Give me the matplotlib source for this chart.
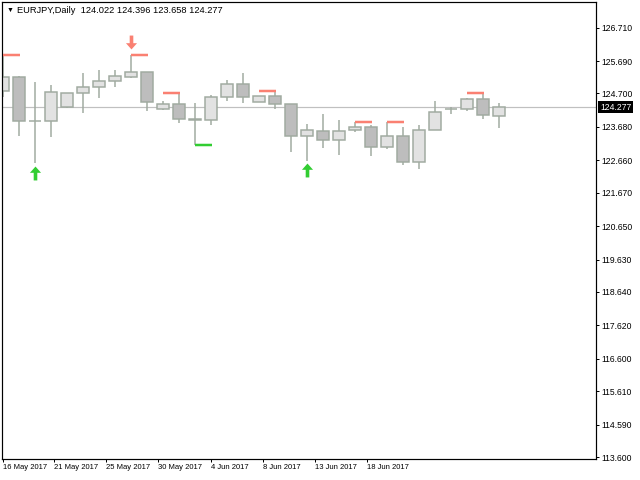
import matplotlib

matplotlib.use("Agg")
import matplotlib.transforms as mtransforms
import numpy as np
from matplotlib import pyplot as plt
from matplotlib.path import Path

plt.rcParams["font.family"] = ["Liberation Sans", "DejaVu Sans"]

# daily bars, EURJPY
opens = [124.785, 125.194, 123.870, 123.869, 124.278, 124.705, 124.889, 125.072,
         125.212, 125.347, 124.235, 124.379, 123.921, 123.881, 124.583, 124.980,
         124.431, 124.623, 124.369, 123.392, 123.545, 123.270, 123.594, 123.667,
         123.056, 123.392, 122.598, 123.576, 124.217, 124.217, 124.522, 124.022]
highs = [125.840, 125.234, 125.060, 124.959, 124.720, 125.334, 125.417, 125.417,
         125.865, 125.350, 124.470, 124.705, 124.409, 124.653, 125.111, 125.334,
         124.630, 124.754, 124.369, 123.768, 124.073, 123.890, 123.820, 123.737,
         123.820, 123.676, 123.737, 124.470, 124.287, 124.571, 124.705, 124.396]
lows = [124.602, 123.402, 122.568, 123.380, 124.270, 124.113, 124.571, 124.907,
        125.182, 124.174, 124.195, 123.808, 123.127, 123.747, 124.479, 124.418,
        124.430, 124.217, 122.922, 122.647, 123.044, 122.831, 123.533, 122.800,
        123.014, 122.525, 122.403, 123.576, 124.082, 124.156, 123.930, 123.658]
closes = [125.194, 123.850, 123.855, 124.745, 124.715, 124.889, 125.081, 125.224,
          125.347, 124.449, 124.379, 123.911, 123.875, 124.583, 124.980, 124.583,
          124.623, 124.369, 123.392, 123.576, 123.270, 123.545, 123.667, 123.056,
          123.392, 122.598, 123.576, 124.125, 124.217, 124.522, 124.034, 124.277]

# fractal levels: (bar where the segment starts, price)
res_bars = [0, 8, 10, 16, 22, 24, 29]
res_levels = [125.875, 125.865, 124.705, 124.776, 123.829, 123.829, 124.705]
sup_bars = [12]
sup_levels = [123.118]

# signal arrows
buy_bars = [2, 19]
sell_bars = [8]

price_ticks = [126.710, 125.690, 124.700, 123.680, 122.660, 121.670, 120.650,
               119.630, 118.640, 117.620, 116.600, 115.610, 114.590, 113.600]
date_pos = [0, 3.2, 6.45, 9.7, 13.0, 16.27, 19.5, 22.75]
date_labels = ["16 May 2017", "21 May 2017", "25 May 2017", "30 May 2017",
               "4 Jun 2017", "8 Jun 2017", "13 Jun 2017", "18 Jun 2017"]

o, h, l, c = map(np.array, (opens, highs, lows, closes))
x = np.arange(o.size)
last = c[-1]

px = 1 / 100 * 72  # one pixel in points
edge = "#A0AAA0"
fig = plt.figure(figsize=(6.4, 4.8), dpi=100)
ax = fig.add_axes([2 / 640, 1 - 459 / 480, 594 / 640, 457 / 480])
ax.set_xlim(-1 / 16, 593 / 16)
ax.set_ylim(113.539, 127.493)

ax.axhline(last, color="#C0C0C0", lw=1.2 * px, zorder=0.5)
ax.vlines(x, l, h, color=edge, lw=1.5 * px, zorder=1)
faces = np.where(c >= o, "#E2E2E2", "#BDBDBD")
ax.bar(x, np.abs(c - o), bottom=np.minimum(o, c), width=0.69, color=faces,
       edgecolor=edge, linewidth=1.5 * px, zorder=2)

rb = np.array(res_bars)
ax.hlines(res_levels, rb - 0.02, rb + 1.08, color="#FA8072", lw=2.5 * px, zorder=3)
sb = np.array(sup_bars)
ax.hlines(sup_levels, sb - 0.02, sb + 1.08, color="#32CD32", lw=2.5 * px, zorder=3)

up = Path([(0, 0.5), (0.4, 0.05), (0.13, 0.05), (0.13, -0.5), (-0.13, -0.5),
           (-0.13, 0.05), (-0.4, 0.05), (0, 0.5)],
          [Path.MOVETO] + [Path.LINETO] * 6 + [Path.CLOSEPOLY])
down = Path(up.vertices * [1, -1], up.codes)
off_dn = mtransforms.ScaledTranslation(0, -7 / 72, fig.dpi_scale_trans)
off_up = mtransforms.ScaledTranslation(0, 9.6 / 72, fig.dpi_scale_trans)
ax.plot(x[buy_bars], l[buy_bars], ls="none", marker=up, ms=10, color="#32CD32",
        mec="none", transform=ax.transData + off_dn, zorder=4)
ax.plot(x[sell_bars], h[sell_bars], ls="none", marker=down, ms=10, color="#FA8072",
        mec="none", transform=ax.transData + off_up, zorder=4)

ax.yaxis.tick_right()
ax.set_yticks(price_ticks, [f"{v:.3f}" for v in price_ticks])
ax.set_xticks(date_pos, date_labels)
for lab in ax.get_xticklabels():
    lab.set_ha("left")
ax.tick_params(axis="both", length=3 * px, width=px, direction="out", pad=2,
               colors="black")
ax.tick_params(axis="y", labelsize=6.2)
ax.tick_params(axis="x", labelsize=5.5, pad=1.5)
for s in ax.spines.values():
    s.set_linewidth(1.2 * px)
    s.set_color("black")

ax.text(1 + 4 / 594, last, f"{last:.3f}", transform=ax.get_yaxis_transform(),
        fontsize=6.2, color="white", ha="left", va="center", clip_on=False,
        bbox=dict(facecolor="black", edgecolor="none", pad=1.2))

fig.text(6.5 / 640, 1 - 10.5 / 480, "\u25bc", fontsize=5, va="center", ha="left")
fig.text(17 / 640, 1 - 10.5 / 480,
         f"EURJPY,Daily  {o[-1]:.3f} {h[-1]:.3f} {l[-1]:.3f} {c[-1]:.3f}",
         fontsize=6.7, va="center", ha="left")

fig.savefig("out.png", dpi=100)
